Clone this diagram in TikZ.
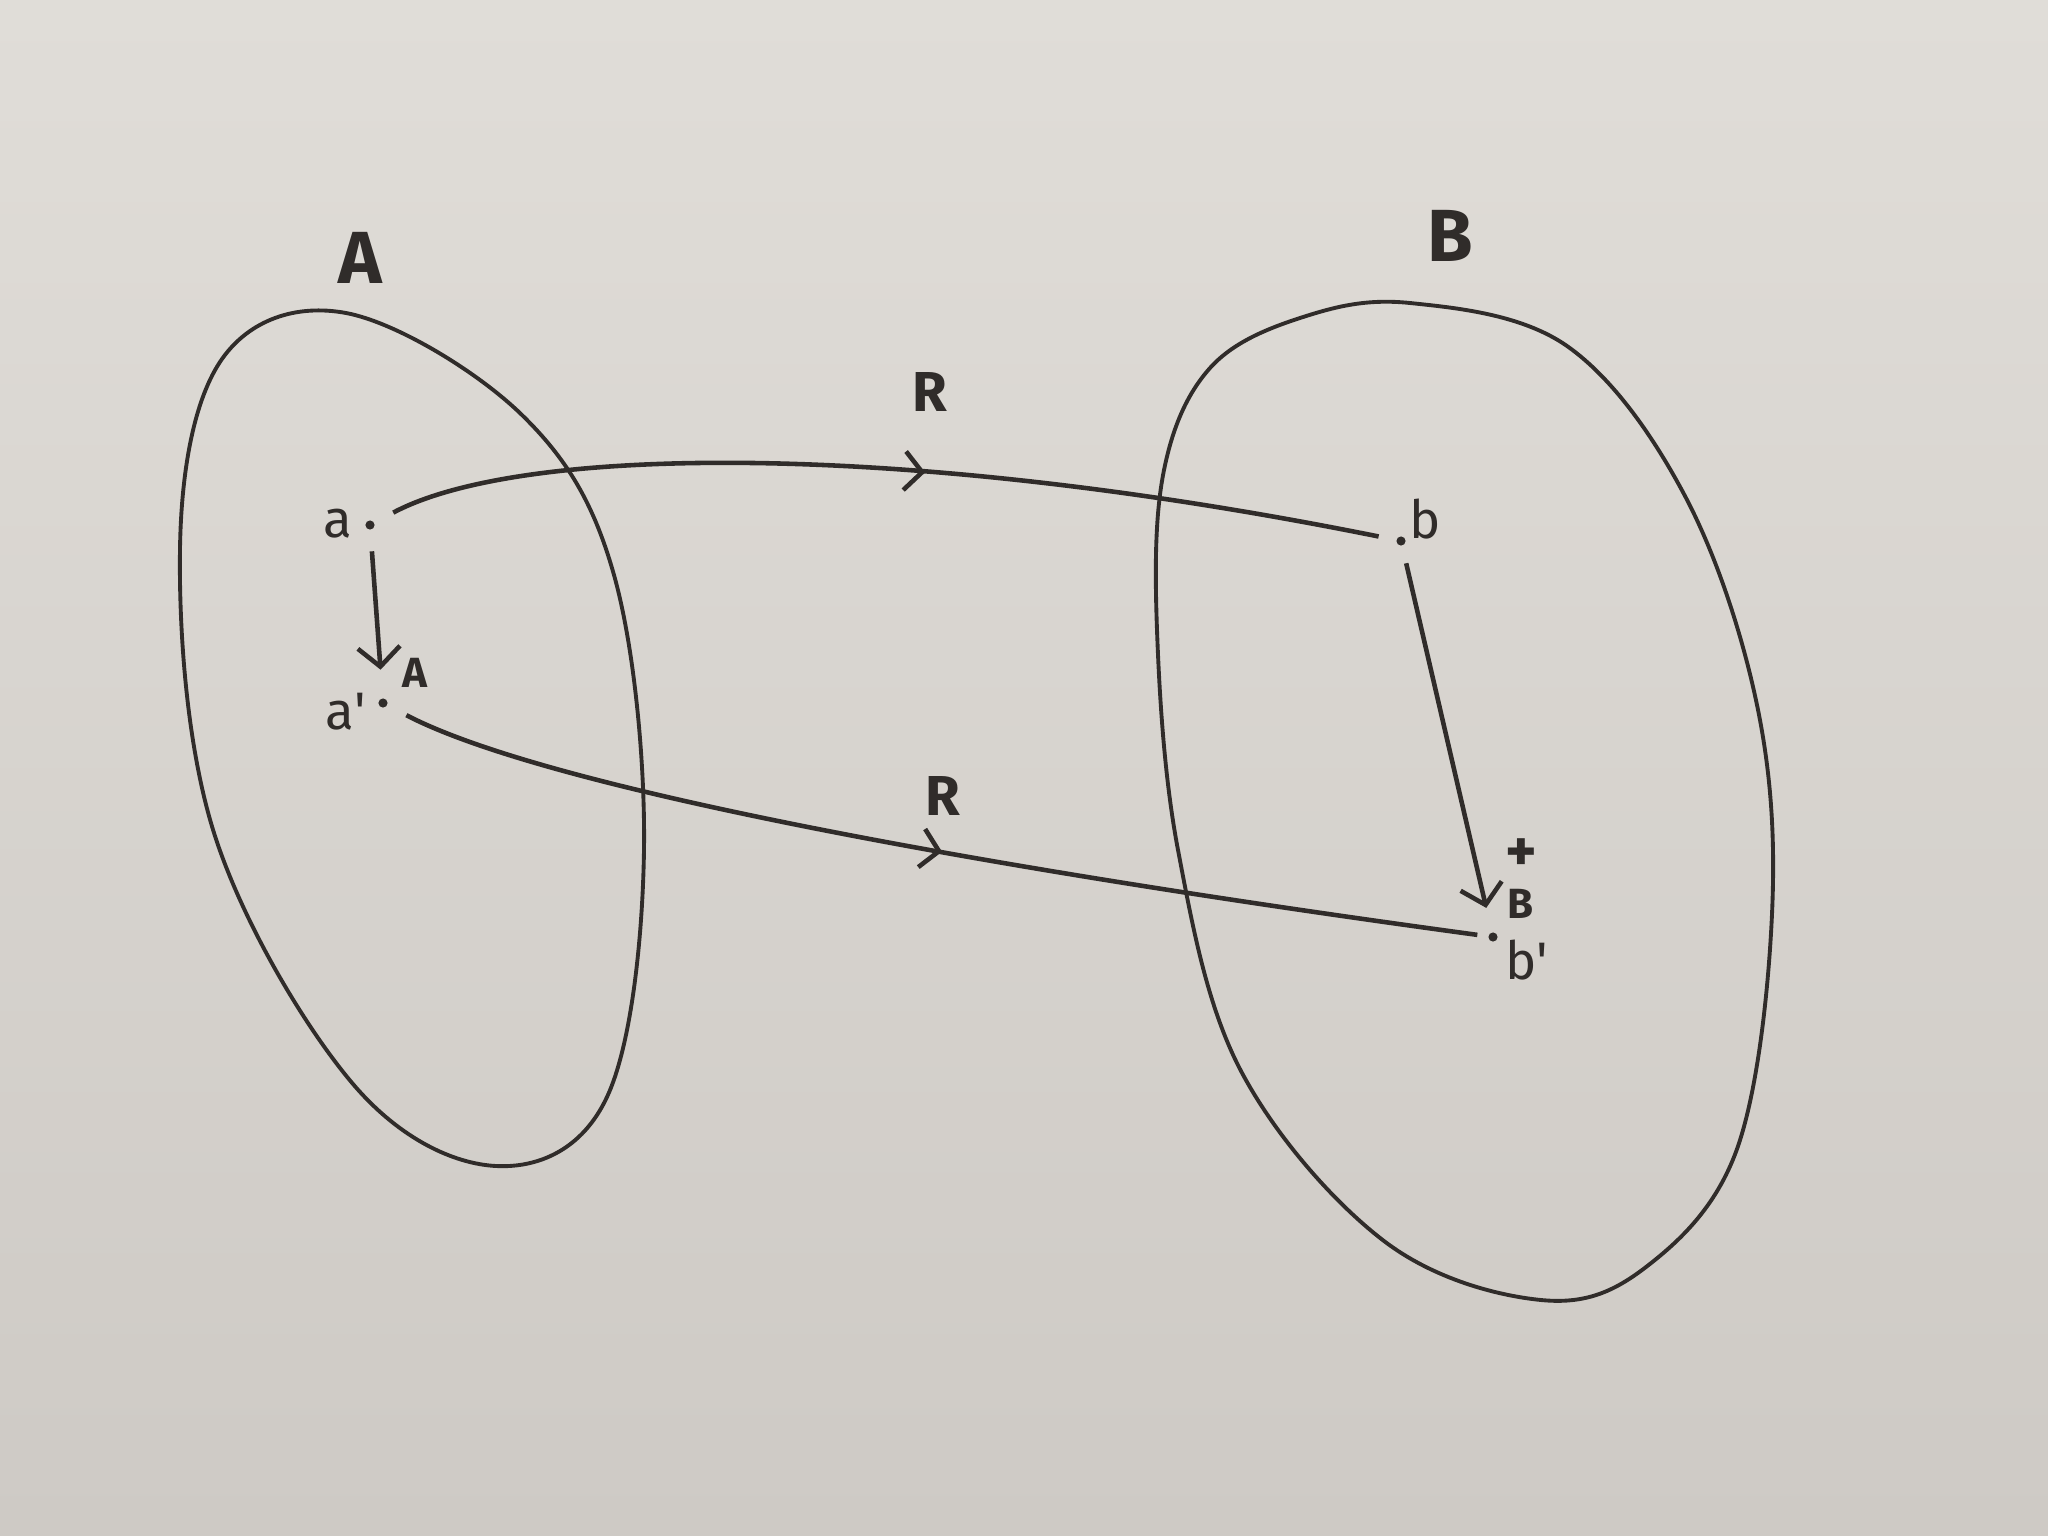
\documentclass[tikz,border=0pt]{standalone}
\usepackage{fontspec}
\setmainfont{Fira Sans}
\usetikzlibrary{decorations.markings,arrows.meta}
\definecolor{paper}{RGB}{224,221,216}
\definecolor{paperd}{RGB}{206,202,197}
\definecolor{ink}{RGB}{48,44,42}
\tikzset{
  blob/.style={draw=ink, line width=1.1pt},
  dotn/.style={circle, fill=ink, inner sep=0pt, minimum size=2.6pt},
  lbl/.style={text=ink, font=\fontsize{15}{16}\selectfont, inner sep=0pt},
  setlbl/.style={text=ink, font=\fontsize{21}{22}\selectfont\bfseries, inner sep=0pt},
  rlbl/.style={text=ink, font=\fontsize{16}{17}\selectfont\bfseries, inner sep=0pt},
  sublbl/.style={text=ink, font=\fontsize{12}{13}\selectfont\bfseries, inner sep=0pt},
  pluslbl/.style={text=ink, font=\fontsize{17}{18}\selectfont\bfseries, inner sep=0pt},
  rel/.style={draw=ink, line width=1.3pt, postaction={decorate},
    decoration={markings, mark=at position #1 with {\arrow[ink, line width=1.3pt]{Straight Barb[length=5pt,width=11pt]}}}},
  ord/.style={draw=ink, line width=1.3pt, -{Straight Barb[length=5.5pt,width=12pt]}}
}
\begin{document}
\begin{tikzpicture}[x=0.01cm, y=-0.01cm]
\useasboundingbox (0,0) rectangle (2048,1536);
\shade[top color=paper, bottom color=paperd] (0,0) rectangle (2048,1536);

% sets
\draw[blob] plot[smooth cycle, tension=0.6] coordinates {
 (346,313) (522,415) (614,575) (644,849) (607,1097) (496,1166) (353,1084)
 (215,836) (180,549) (222,359)};
\draw[blob] plot[smooth cycle, tension=0.6] coordinates {
 (1410,303) (1567,346) (1685,496) (1757,705) (1772,914) (1737,1149) (1646,1267)
 (1541,1300) (1384,1241) (1241,1071) (1178,850) (1157,630) (1164,470) (1210,368) (1300,318)};

\node[setlbl] (tA) at (360,258) {A};
\node[setlbl] (tB) at (1450,236) {B};

% points
\node[dotn] (pa) at (370,525) {};
\node[dotn] (pa2) at (383,703) {};
\node[dotn] (pb) at (1401,541) {};
\node[dotn] (pb2) at (1493,937) {};

\node[lbl] (la) at (338,524) {a};
\node[lbl] (la2) at (346,712) {a\textquotesingle};
\node[lbl] (lb) at (1425,519) {b};
\node[lbl] (lb2) at (1527,960) {b\textquotesingle};

% relation arrows
\draw[rel=0.54, shorten <=6pt, shorten >=5pt] (pa) .. controls (520,445) and (900,440) .. (pb);
\draw[rel=0.51, shorten <=6pt, shorten >=3pt] (pa2) .. controls (550,790) and (1000,870) .. (pb2);
\node[rlbl] (r1) at (930,392) {R};
\node[rlbl] (r2) at (943,796) {R};

% order arrows
\draw[ord, shorten <=6pt, shorten >=8pt] (pa) -- (pa2);
\draw[ord, shorten <=5pt, shorten >=7pt] (pb) -- (pb2);
\node[sublbl] (oA) at (415,673) {A};
\node[pluslbl] (oP) at (1521,855) {+};
\node[sublbl] (oB) at (1521,904) {B};
\end{tikzpicture}
\end{document}
